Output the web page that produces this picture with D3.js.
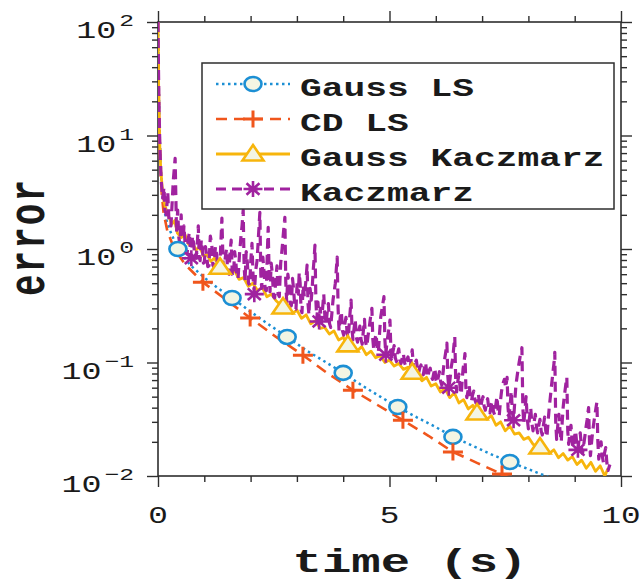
<!DOCTYPE html>
<html>
<head>
<meta charset="utf-8">
<script src="https://cdn.jsdelivr.net/npm/d3@7"></script>
<style>
  html, body { margin: 0; padding: 0; background: #fff; }
  svg { display: block; }
</style>
</head>
<body>
<svg id="chart" width="640" height="582"></svg>
<script>
// ---- data: [time (s), error] ----
const gaussLsPoints = [
  [0, 100], [0.015, 30], [0.03, 13], [0.05, 6.5], [0.08, 3.6], [0.12, 2.4], [0.18, 1.8],
  [0.26, 1.45], [0.43, 1.0], [0.7, 0.72], [1.0, 0.56], [1.3, 0.45], [1.6, 0.37], [2.0, 0.28],
  [2.4, 0.215], [2.79, 0.168], [3.2, 0.128], [3.6, 0.102], [4.0, 0.081], [4.4, 0.063],
  [4.8, 0.05], [5.18, 0.0405], [5.6, 0.0327], [6.0, 0.027], [6.37, 0.0221], [6.8, 0.0184],
  [7.2, 0.0155], [7.6, 0.0133], [8.0, 0.0115], [8.32, 0.0102], [8.6, 0.0092]
];
const gaussLsMarkers = [0.43, 1.6, 2.79, 4.0, 5.18, 6.37, 7.6];

const cdLsPoints = [
  [0, 100], [0.015, 28], [0.03, 11], [0.05, 5.5], [0.08, 3.1], [0.12, 2.1], [0.2, 1.45],
  [0.35, 1.0], [0.6, 0.72], [0.97, 0.51], [1.5, 0.35], [1.99, 0.247], [2.55, 0.168],
  [3.13, 0.116], [3.65, 0.081], [4.21, 0.057], [4.75, 0.042], [5.29, 0.031], [5.85, 0.0225],
  [6.37, 0.0163], [6.9, 0.013], [7.43, 0.0104], [7.7, 0.0092]
];
const cdLsMarkers = [0.97, 1.99, 3.13, 4.21, 5.29, 6.37, 7.43];

const gaussKaczmarzPoints = [
  [0, 100], [0.01, 40], [0.02, 16], [0.04, 7.9], [0.06, 5.0], [0.09, 3.5], [0.13, 2.6],
  [0.18, 2.2], [0.24, 1.9], [0.30, 1.66], [0.36, 1.78], [0.42, 1.38], [0.50, 1.26],
  [0.58, 1.35], [0.66, 1.10], [0.74, 1.15], [0.82, 0.98], [0.90, 1.05], [0.98, 0.87],
  [1.06, 0.89], [1.14, 0.78], [1.22, 0.83], [1.34, 0.69], [1.45, 0.68], [1.55, 0.60],
  [1.65, 0.65], [1.75, 0.54], [1.85, 0.56], [1.95, 0.47], [2.05, 0.50], [2.15, 0.43],
  [2.25, 0.46], [2.35, 0.38], [2.45, 0.40], [2.55, 0.35], [2.70, 0.308], [2.80, 0.316],
  [2.90, 0.27], [3.00, 0.29], [3.10, 0.245], [3.20, 0.263], [3.30, 0.219], [3.40, 0.234],
  [3.50, 0.20], [3.60, 0.204], [3.70, 0.178], [3.80, 0.19], [3.90, 0.158], [4.00, 0.166],
  [4.10, 0.143], [4.20, 0.145], [4.30, 0.126], [4.40, 0.138], [4.50, 0.117], [4.60, 0.126],
  [4.70, 0.11], [4.80, 0.115], [4.90, 0.100], [5.00, 0.105], [5.10, 0.093], [5.20, 0.098],
  [5.30, 0.087], [5.40, 0.091], [5.49, 0.082], [5.60, 0.079], [5.70, 0.069], [5.80, 0.074],
  [5.90, 0.062], [6.00, 0.065], [6.10, 0.055], [6.20, 0.059], [6.30, 0.049], [6.40, 0.054],
  [6.50, 0.044], [6.60, 0.047], [6.70, 0.039], [6.80, 0.042], [6.89, 0.0359], [7.00, 0.036],
  [7.10, 0.0316], [7.20, 0.034], [7.30, 0.028], [7.40, 0.030], [7.50, 0.025], [7.60, 0.0275],
  [7.70, 0.0234], [7.80, 0.024], [7.90, 0.021], [8.00, 0.022], [8.10, 0.019], [8.25, 0.018],
  [8.35, 0.0178], [8.45, 0.0158], [8.55, 0.017], [8.65, 0.0145], [8.75, 0.0158], [8.85, 0.0138],
  [8.95, 0.0148], [9.05, 0.0126], [9.15, 0.0138], [9.25, 0.0117], [9.35, 0.0132], [9.45, 0.011],
  [9.55, 0.0123], [9.65, 0.0100], [9.72, 0.0117]
];
const gaussKaczmarzMarkers = [1.34, 2.70, 4.10, 5.49, 6.89, 8.25];

const kaczmarzPoints = [
  [0, 100], [0.01, 40], [0.02, 20], [0.035, 10], [0.05, 6.3], [0.07, 4.0], [0.10, 2.8],
  [0.13, 3.5], [0.15, 2.2], [0.18, 2.0], [0.21, 3.2], [0.24, 1.66], [0.28, 1.6], [0.33, 4.0],
  [0.37, 6.3], [0.40, 1.4], [0.425, 2.2], [0.45, 1.26], [0.475, 1.1], [0.50, 2.0], [0.52, 1.3],
  [0.54, 1.05], [0.56, 1.6], [0.58, 1.2], [0.605, 0.95], [0.63, 0.91], [0.655, 1.25], [0.68, 1.4],
  [0.70, 0.9], [0.72, 0.83], [0.745, 1.3], [0.77, 1.12], [0.795, 0.85], [0.82, 0.83], [0.845, 1.05],
  [0.87, 1.6], [0.89, 0.85], [0.91, 0.79], [0.935, 1.2], [0.96, 1.0], [0.98, 0.75], [1.00, 0.76],
  [1.025, 1.05], [1.05, 0.89], [1.075, 0.7], [1.10, 0.71], [1.13, 1.3], [1.16, 1.12], [1.185, 0.72],
  [1.21, 0.69], [1.24, 1.05], [1.27, 0.87], [1.295, 0.67], [1.32, 0.66], [1.35, 0.95], [1.38, 1.87],
  [1.405, 0.75], [1.43, 0.68], [1.455, 0.85], [1.48, 1.0], [1.505, 0.62], [1.53, 0.60], [1.555, 0.9],
  [1.58, 1.2], [1.605, 0.6], [1.63, 0.575], [1.655, 0.95], [1.68, 0.79], [1.705, 0.56], [1.73, 0.55],
  [1.76, 0.9], [1.79, 1.26], [1.815, 1.6], [1.84, 2.2], [1.86, 0.7], [1.88, 0.525], [1.905, 0.95],
  [1.93, 0.76], [1.955, 0.5], [1.98, 0.48], [2.005, 0.8], [2.03, 1.12], [2.055, 0.55], [2.08, 0.40],
  [2.11, 0.65], [2.14, 0.79], [2.17, 1.3], [2.20, 2.1], [2.22, 0.6], [2.24, 0.45], [2.265, 0.85],
  [2.29, 0.63], [2.315, 0.44], [2.34, 0.43], [2.36, 0.9], [2.38, 1.55], [2.40, 0.6], [2.42, 0.42],
  [2.445, 0.75], [2.47, 0.60], [2.495, 0.38], [2.52, 0.37], [2.545, 0.55], [2.57, 0.71], [2.595, 0.4],
  [2.62, 0.38], [2.65, 0.75], [2.68, 1.0], [2.71, 1.4], [2.74, 1.9], [2.76, 0.5], [2.78, 0.34],
  [2.805, 0.6], [2.83, 0.50], [2.855, 0.33], [2.88, 0.316], [2.905, 0.55], [2.93, 0.44], [2.955, 0.3],
  [2.98, 0.295], [3.005, 0.5], [3.03, 0.40], [3.05, 0.62], [3.07, 0.50], [3.09, 0.29], [3.11, 0.275],
  [3.135, 0.48], [3.16, 0.38], [3.19, 0.5], [3.22, 0.72], [3.24, 0.33], [3.26, 0.263], [3.285, 0.45],
  [3.31, 0.355], [3.33, 0.45], [3.35, 0.63], [3.37, 0.8], [3.39, 1.08], [3.41, 0.35], [3.43, 0.24],
  [3.455, 0.34], [3.48, 0.23], [3.505, 0.3], [3.53, 0.224], [3.555, 0.3], [3.58, 0.40], [3.605, 0.25],
  [3.63, 0.219], [3.655, 0.28], [3.68, 0.33], [3.705, 0.22], [3.73, 0.204], [3.755, 0.27], [3.78, 0.355],
  [3.805, 0.42], [3.83, 0.50], [3.85, 0.65], [3.87, 0.85], [3.89, 0.3], [3.91, 0.19], [3.935, 0.25],
  [3.96, 0.28], [3.985, 0.19], [4.01, 0.174], [4.035, 0.22], [4.06, 0.25], [4.085, 0.18], [4.11, 0.166],
  [4.14, 0.25], [4.17, 0.355], [4.19, 0.2], [4.21, 0.158], [4.235, 0.2], [4.26, 0.24], [4.285, 0.165],
  [4.31, 0.151], [4.335, 0.19], [4.36, 0.209], [4.385, 0.16], [4.41, 0.145], [4.435, 0.19], [4.46, 0.24],
  [4.485, 0.15], [4.51, 0.138], [4.535, 0.17], [4.56, 0.20], [4.59, 0.25], [4.62, 0.30], [4.64, 0.16],
  [4.66, 0.129], [4.685, 0.16], [4.71, 0.178], [4.735, 0.135], [4.76, 0.123], [4.785, 0.18], [4.81, 0.25],
  [4.845, 0.31], [4.88, 0.38], [4.90, 0.16], [4.92, 0.117], [4.945, 0.15], [4.97, 0.178], [4.99, 0.2],
  [5.01, 0.236], [5.03, 0.13], [5.05, 0.107], [5.075, 0.125], [5.10, 0.141], [5.125, 0.11], [5.15, 0.102],
  [5.175, 0.12], [5.20, 0.132], [5.225, 0.105], [5.25, 0.098], [5.275, 0.11], [5.30, 0.12], [5.325, 0.1],
  [5.35, 0.093], [5.375, 0.105], [5.40, 0.112], [5.425, 0.095], [5.45, 0.089], [5.47, 0.11], [5.49, 0.129],
  [5.51, 0.1], [5.53, 0.085], [5.555, 0.1], [5.58, 0.105], [5.605, 0.088], [5.63, 0.081], [5.655, 0.09],
  [5.68, 0.095], [5.705, 0.083], [5.73, 0.078], [5.755, 0.09], [5.78, 0.10], [5.805, 0.08], [5.83, 0.074],
  [5.855, 0.085], [5.88, 0.089], [5.905, 0.075], [5.93, 0.071], [5.955, 0.08], [5.98, 0.089], [6.005, 0.07],
  [6.03, 0.066], [6.055, 0.075], [6.08, 0.083], [6.105, 0.068], [6.13, 0.063], [6.155, 0.08], [6.18, 0.10],
  [6.21, 0.12], [6.24, 0.148], [6.26, 0.075], [6.28, 0.060], [6.305, 0.07], [6.33, 0.089], [6.35, 0.1],
  [6.37, 0.112], [6.39, 0.14], [6.41, 0.168], [6.43, 0.07], [6.45, 0.055], [6.475, 0.068], [6.50, 0.079],
  [6.525, 0.06], [6.55, 0.0525], [6.57, 0.07], [6.59, 0.089], [6.61, 0.1], [6.63, 0.12], [6.65, 0.06],
  [6.67, 0.049], [6.695, 0.056], [6.72, 0.063], [6.745, 0.05], [6.77, 0.0457], [6.795, 0.052], [6.82, 0.056],
  [6.845, 0.047], [6.87, 0.0437], [6.895, 0.05], [6.92, 0.0525], [6.945, 0.043], [6.97, 0.040], [6.995, 0.046],
  [7.02, 0.050], [7.045, 0.041], [7.07, 0.038], [7.095, 0.044], [7.12, 0.048], [7.145, 0.039], [7.17, 0.036],
  [7.195, 0.042], [7.22, 0.0457], [7.245, 0.037], [7.27, 0.0347], [7.295, 0.042], [7.32, 0.050], [7.345, 0.038],
  [7.37, 0.034], [7.395, 0.045], [7.42, 0.056], [7.45, 0.065], [7.48, 0.071], [7.51, 0.06], [7.54, 0.074],
  [7.56, 0.04], [7.58, 0.032], [7.605, 0.042], [7.63, 0.056], [7.655, 0.036], [7.68, 0.031], [7.705, 0.045],
  [7.73, 0.063], [7.755, 0.075], [7.78, 0.089], [7.80, 0.1], [7.82, 0.112], [7.84, 0.12], [7.86, 0.135],
  [7.88, 0.04], [7.90, 0.029], [7.925, 0.038], [7.95, 0.050], [7.975, 0.032], [8.00, 0.026], [8.025, 0.033],
  [8.05, 0.040], [8.075, 0.029], [8.10, 0.025], [8.125, 0.03], [8.15, 0.035], [8.175, 0.027], [8.20, 0.024],
  [8.225, 0.028], [8.25, 0.0316], [8.275, 0.025], [8.30, 0.023], [8.325, 0.028], [8.35, 0.033], [8.375, 0.025],
  [8.40, 0.022], [8.425, 0.03], [8.45, 0.040], [8.475, 0.05], [8.50, 0.063], [8.52, 0.075], [8.54, 0.089],
  [8.555, 0.1], [8.57, 0.123], [8.59, 0.03], [8.61, 0.021], [8.635, 0.028], [8.66, 0.035], [8.685, 0.024],
  [8.71, 0.020], [8.73, 0.03], [8.75, 0.040], [8.77, 0.048], [8.79, 0.056], [8.81, 0.065], [8.83, 0.074],
  [8.85, 0.025], [8.87, 0.019], [8.895, 0.024], [8.92, 0.028], [8.945, 0.02], [8.97, 0.0178], [8.995, 0.022],
  [9.02, 0.025], [9.045, 0.019], [9.07, 0.017], [9.095, 0.021], [9.12, 0.024], [9.145, 0.018], [9.17, 0.0158],
  [9.195, 0.019], [9.22, 0.0224], [9.245, 0.027], [9.27, 0.0316], [9.285, 0.036], [9.30, 0.040], [9.32, 0.02],
  [9.34, 0.0151], [9.365, 0.02], [9.39, 0.025], [9.415, 0.03], [9.44, 0.035], [9.46, 0.04], [9.48, 0.045],
  [9.50, 0.02], [9.52, 0.0141], [9.545, 0.017], [9.57, 0.020], [9.595, 0.015], [9.62, 0.0132], [9.645, 0.016],
  [9.67, 0.0178], [9.695, 0.013], [9.72, 0.0112], [9.76, 0.0126]
];
const kaczmarzMarkers = [0.72, 2.08, 3.48, 4.92, 6.28, 7.68, 9.07];

const seriesNames = ["Gauss LS", "CD LS", "Gauss Kaczmarz", "Kaczmarz"];
const xTickValues = [0, 5, 10];
const xTickLabels = ["0", "5", "10"];
const yTickValues = [0.01, 0.1, 1, 10, 100];
const yTickExponents = ["\u22122", "\u22121", "0", "1", "2"];
const xLabel = "time (s)";
const yLabel = "error";

// ---- layout ----
const frame = { left: 158, right: 621, top: 22, bottom: 476 };
const FONT = "'Liberation Mono', 'Courier New', monospace";
const INK = "#1a1a1a";
const AXIS = "#2e2e2e";
const FACE = "#f3f5e3";

const svg = d3.select("#chart");
const x = d3.scaleLinear().domain([0, 10]).range([frame.left, frame.right]);
const y = d3.scaleLog().domain([0.01, 100]).range([frame.bottom, frame.top]);

// ---- ticks on all four sides, pointing outward ----
const xMinor = x.ticks(10).filter(v => !xTickValues.includes(v));
const yMinor = y.ticks().filter(v => !yTickValues.some(p => Math.abs(p - v) / p < 1e-9));

function tickRow(axisFn, values, size, shift) {
  svg.append("g")
    .attr("transform", shift)
    .call(axisFn.tickValues(values).tickSize(size).tickSizeOuter(0).tickFormat(""))
    .call(g => g.select(".domain").remove())
    .selectAll("line").attr("stroke", AXIS).attr("stroke-width", 1.4);
}
tickRow(d3.axisBottom(x), xMinor, 6, `translate(0,${frame.bottom})`);
tickRow(d3.axisBottom(x), xTickValues, 11, `translate(0,${frame.bottom})`);
tickRow(d3.axisTop(x), xMinor, 6, `translate(0,${frame.top})`);
tickRow(d3.axisTop(x), xTickValues, 11, `translate(0,${frame.top})`);
tickRow(d3.axisLeft(y), yMinor, 6, `translate(${frame.left},0)`);
tickRow(d3.axisLeft(y), yTickValues, 11, `translate(${frame.left},0)`);
tickRow(d3.axisRight(y), yMinor, 6, `translate(${frame.right},0)`);
tickRow(d3.axisRight(y), yTickValues, 11, `translate(${frame.right},0)`);

// plot box
svg.append("rect")
  .attr("x", frame.left).attr("y", frame.top)
  .attr("width", frame.right - frame.left).attr("height", frame.bottom - frame.top)
  .attr("fill", "none").attr("stroke", AXIS).attr("stroke-width", 1.6);

// the typeface is drawn horizontally widened
function wideText(parent, px, py, sx, rotate) {
  return parent.append("text")
    .attr("transform", `translate(${px},${py}) scale(${sx},1)` + (rotate ? ` rotate(${rotate})` : ""))
    .attr("font-family", FONT).attr("fill", INK);
}

// x tick labels
xTickValues.forEach((v, i) => {
  wideText(svg, x(v), 523, 1.42)
    .attr("text-anchor", "middle").attr("font-size", 23)
    .text(xTickLabels[i]);
});

// y tick labels: 10 with a raised exponent
yTickValues.forEach((v, i) => {
  const t = wideText(svg, 134, y(v) + 16, 1.45)
    .attr("text-anchor", "end").attr("font-size", 23);
  t.append("tspan").text("10");
  t.append("tspan").attr("dx", 2).attr("dy", -12).attr("font-size", 17).text(yTickExponents[i]);
});

// axis titles
wideText(svg, 410, 572, 1.44)
  .attr("text-anchor", "middle").attr("font-size", 34).attr("font-weight", "bold")
  .text(xLabel);
wideText(svg, 44, 237, 1.45, -90)
  .attr("text-anchor", "middle").attr("font-size", 36).attr("font-weight", "bold")
  .attr("letter-spacing", 2)
  .text(yLabel);

// ---- series ----
const styles = [
  { points: gaussLsPoints, marks: gaussLsMarkers, color: "#1c8fd4", width: 2.5, dash: "2.5,3.5", marker: "circle" },
  { points: cdLsPoints, marks: cdLsMarkers, color: "#f0561c", width: 2.6, dash: "11,7", marker: "plus" },
  { points: gaussKaczmarzPoints, marks: gaussKaczmarzMarkers, color: "#f7b50c", width: 2.8, dash: null, marker: "triangle" },
  { points: kaczmarzPoints, marks: kaczmarzMarkers, color: "#a0229f", width: 3.2, dash: "10,6", marker: "star" }
];

svg.append("clipPath").attr("id", "plot-clip")
  .append("rect")
  .attr("x", frame.left).attr("y", frame.top)
  .attr("width", frame.right - frame.left).attr("height", frame.bottom - frame.top);

const plot = svg.append("g").attr("clip-path", "url(#plot-clip)");
const line = d3.line().x(d => x(d[0])).y(d => y(d[1]));

const markerPaths = {
  plus: "M-10,0H10M0,-8.5V8.5",
  triangle: "M0,-9L10.5,6.5L-10.5,6.5Z",
  star: "M-9.5,0H9.5M0,-8V8M-6.5,-5.8L6.5,5.8M-6.5,5.8L6.5,-5.8"
};

function drawMarker(g, s, px, py) {
  if (s.marker === "circle") {
    g.append("ellipse").attr("cx", px).attr("cy", py).attr("rx", 8.5).attr("ry", 7)
      .attr("fill", FACE).attr("stroke", s.color).attr("stroke-width", 2.6);
  } else {
    g.append("path").attr("d", markerPaths[s.marker])
      .attr("transform", `translate(${px},${py})`)
      .attr("fill", s.marker === "triangle" ? FACE : "none")
      .attr("stroke", s.color)
      .attr("stroke-width", s.marker === "plus" ? 3 : 2.6)
      .attr("stroke-linejoin", "miter");
  }
}

styles.forEach(s => {
  plot.append("path")
    .datum(s.points)
    .attr("d", line)
    .attr("fill", "none")
    .attr("stroke", s.color)
    .attr("stroke-width", s.width)
    .attr("stroke-dasharray", s.dash)
    .attr("stroke-linejoin", "round");
});

styles.forEach(s => {
  s.marks.forEach(t => {
    const p = s.points.find(d => d[0] === t);
    drawMarker(plot, s, x(p[0]), y(p[1]));
  });
});

// ---- legend ----
const legend = svg.append("g");
legend.append("rect")
  .attr("x", 202).attr("y", 63).attr("width", 412).attr("height", 146)
  .attr("fill", "#fff").attr("stroke", AXIS).attr("stroke-width", 1.5);

styles.forEach((s, i) => {
  const ry = 84 + i * 35;
  legend.append("line")
    .attr("x1", 216).attr("x2", 290).attr("y1", ry).attr("y2", ry)
    .attr("stroke", s.color).attr("stroke-width", s.width)
    .attr("stroke-dasharray", s.dash);
  drawMarker(legend, s, 253, ry);
  wideText(legend, 300, ry + 12, 1.45)
    .attr("font-size", 25).attr("font-weight", "bold")
    .text(seriesNames[i]);
});
</script>
</body>
</html>
